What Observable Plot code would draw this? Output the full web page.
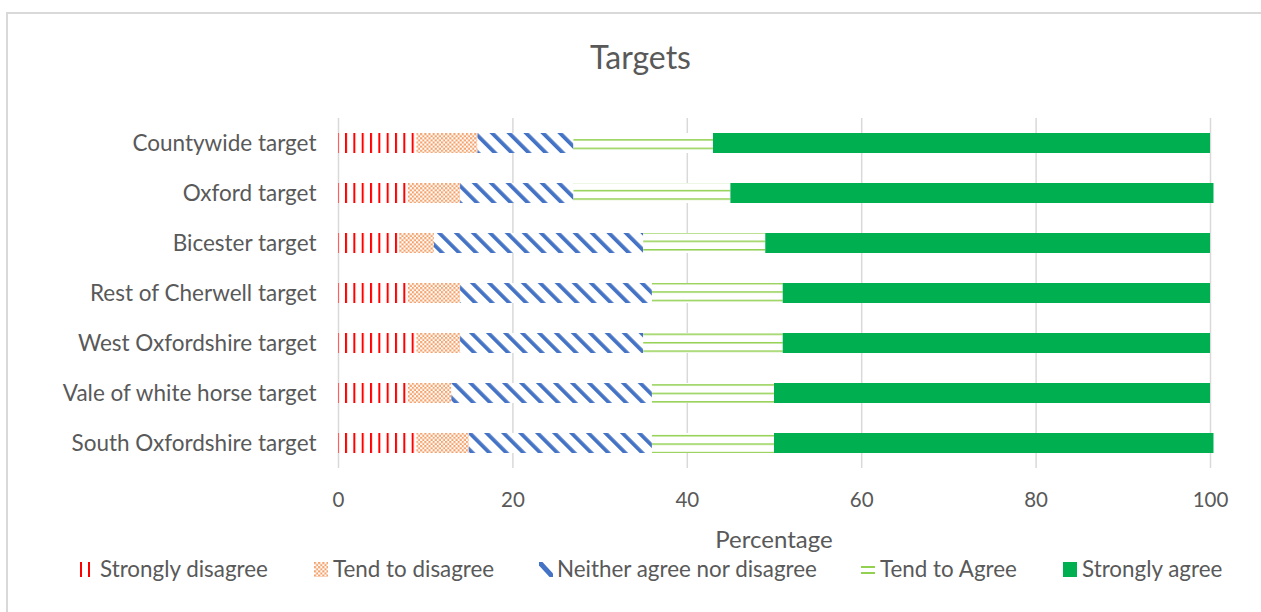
<!DOCTYPE html>
<html><head><meta charset="utf-8">
<script src="https://cdn.jsdelivr.net/npm/d3@7"></script>
<script src="https://cdn.jsdelivr.net/npm/@observablehq/plot@0.6"></script>
<style>
body{margin:0;background:#fff;font-family:Lato,"Noto Sans",sans-serif;}
#wrap{position:relative;width:1261px;height:612px;overflow:hidden;background:#fff;}
#wrap svg.chart{position:absolute;left:0;top:0;}
#frame{position:absolute;left:6px;top:12px;width:1400px;height:800px;border-left:2px solid #d9d9d9;border-top:2px solid #d9d9d9;pointer-events:none;}
.t{position:absolute;color:#595959;white-space:nowrap;line-height:1;}
#title{left:0;width:1281px;text-align:center;font-size:32px;top:41px;}
#xlabel{left:0;width:1548px;text-align:center;font-size:24px;top:527px;}
.leg{position:absolute;top:558px;font-size:22.4px;color:#595959;line-height:1;white-space:nowrap;}
.sw{position:absolute;}
</style>
</head><body>
<div id="wrap"></div>
<script>
const categories = ["Countywide target","Oxford target","Bicester target","Rest of Cherwell target","West Oxfordshire target","Vale of white horse target","South Oxfordshire target"];
const responses = ["Strongly disagree","Tend to disagree","Neither agree nor disagree","Tend to Agree","Strongly agree"];
const stronglyDisagree = [9, 8, 7, 8, 9, 8, 9];
const tendToDisagree   = [7, 6, 4, 6, 5, 5, 6];
const neither          = [11, 13, 24, 22, 21, 23, 21];
const tendToAgree      = [16, 18, 14, 15, 16, 14, 14];
const stronglyAgree    = [57, 55.4, 51, 49, 49, 50, 50.4];
const xTicks = [0, 20, 40, 60, 80, 100];
const axisTitle = "Percentage";
const chartTitle = "Targets";

const series = [stronglyDisagree, tendToDisagree, neither, tendToAgree, stronglyAgree];
const fills = ["url(#p-sd)","url(#p-td)","url(#p-n)","url(#p-ta)","#00B050"];
const data = categories.flatMap((c, i) => responses.map((r, j) => ({category: c, response: r, value: series[j][i]})));

const svg = Plot.plot({
  width: 1261, height: 612,
  marginLeft: 338, marginRight: 51, marginTop: 118, marginBottom: 144,
  style: {fontFamily: "Lato, 'Noto Sans', sans-serif", color: "#595959", background: "transparent", overflow: "visible"},
  x: {domain: [0, 100], label: null},
  y: {domain: categories, paddingInner: 0.6, paddingOuter: 0.3, label: null},
  color: {domain: responses, range: fills},
  marks: [
    Plot.gridX(xTicks, {stroke: "#d9d9d9", strokeOpacity: 1, strokeWidth: 1.5}),
    Plot.barX(data, Plot.stackX({x: "value", y: "category", fill: "response"})),
    Plot.axisX(xTicks, {tickSize: 0, tickPadding: 24, fontSize: 20.5, label: null, fill: "#595959"}),
    Plot.axisY({tickSize: 0, tickPadding: 22, fontSize: 22.5, label: null, fill: "#595959"})
  ]
});
svg.classList.add("chart");
svg.insertAdjacentHTML("afterbegin", `<defs>
<pattern id="p-sd" patternUnits="userSpaceOnUse" x="336.7" y="0" width="8.33" height="10"><rect width="8.33" height="10" fill="#fff"/><rect width="2" height="10" fill="#ff0000"/></pattern>
<pattern id="p-td" patternUnits="userSpaceOnUse" x="0" y="0" width="4.16" height="4.16"><rect width="4.16" height="4.16" fill="#fff"/><rect width="2.08" height="2.08" fill="#ED7D31" fill-opacity="0.72"/><rect x="2.08" y="2.08" width="2.08" height="2.08" fill="#ED7D31" fill-opacity="0.72"/></pattern>
<pattern id="p-n" patternUnits="userSpaceOnUse" width="12" height="12" patternTransform="rotate(-45)"><rect width="12" height="12" fill="#fff"/><rect width="3.8" height="12" fill="#4472C4"/></pattern>
<pattern id="p-ta" patternUnits="userSpaceOnUse" x="0" y="291.25" width="10" height="8.45"><rect width="10" height="8.45" fill="#fff"/><rect width="10" height="1.5" fill="#92D050"/></pattern>
</defs>`);

const wrap = document.getElementById("wrap");
wrap.appendChild(svg);

function addText(id, cls, txt) {
  const d = document.createElement("div");
  if (id) d.id = id;
  d.className = cls;
  d.textContent = txt;
  wrap.appendChild(d);
  return d;
}
addText("title", "t", chartTitle);
addText("xlabel", "t", axisTitle);

// legend
const legendX = [100, 333, 557, 880, 1082];
const swatches = [
  `<svg class="sw" style="left:80px;top:562px" width="10" height="15"><rect x="0" width="2" height="15" fill="#ff0000"/><rect x="8" width="2" height="15" fill="#ff0000"/></svg>`,
  `<svg class="sw" style="left:314px;top:562px" width="14" height="15"><rect width="14" height="15" fill="url(#p-td)"/></svg>`,
  `<svg class="sw" style="left:539px;top:562px" width="14" height="15"><path d="M0,0 L3.5,0 L14,11.5 L14,15 L10.5,15 L0,3.5 Z" fill="#4472C4"/></svg>`,
  `<svg class="sw" style="left:861px;top:562px" width="14" height="15"><rect y="4" width="14" height="2" fill="#92D050"/><rect y="10" width="14" height="2" fill="#92D050"/></svg>`,
  `<svg class="sw" style="left:1063px;top:562px" width="14" height="15"><rect width="14" height="15" fill="#00B050"/></svg>`
];
responses.forEach((r, i) => {
  wrap.insertAdjacentHTML("beforeend", swatches[i]);
  const d = addText(null, "leg", r);
  d.style.left = legendX[i] + "px";
});
const frame = document.createElement("div");
frame.id = "frame";
wrap.appendChild(frame);
</script>
</body></html>
